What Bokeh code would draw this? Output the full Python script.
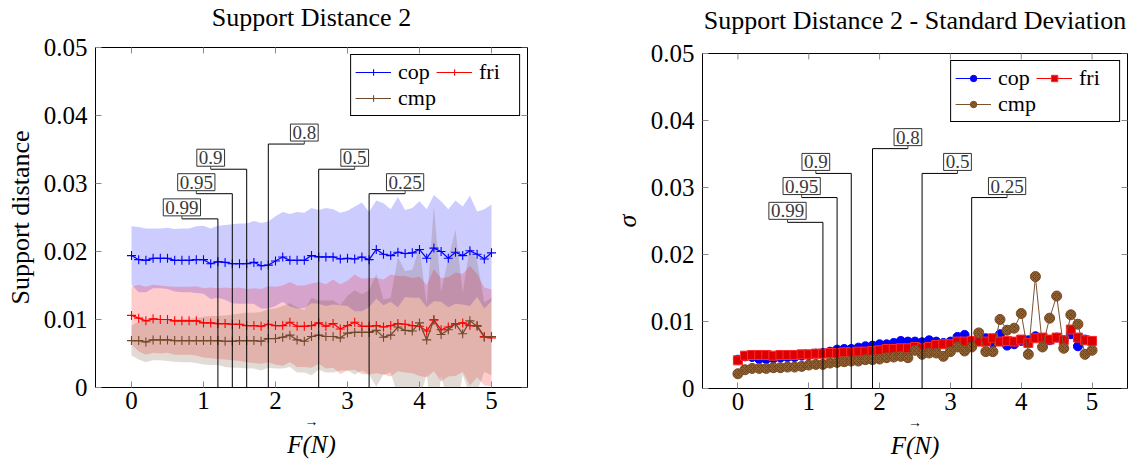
import numpy as np
from bokeh.plotting import figure
from bokeh.models import (Range1d, FixedTicker, Legend, LegendItem, Label, Title)
from bokeh.layouts import row, column
from bokeh.embed import file_html
from bokeh.resources import INLINE

FONT = "Liberation Serif"

# ---------------- data ----------------
force = [0.0, 0.1, 0.2, 0.3, 0.4, 0.5, 0.6, 0.7, 0.8, 0.9,
         1.0, 1.1, 1.2, 1.3, 1.4, 1.5, 1.6, 1.7, 1.8, 1.9,
         2.0, 2.1, 2.2, 2.3, 2.4, 2.5, 2.6, 2.7, 2.8, 2.9,
         3.0, 3.1, 3.2, 3.3, 3.4, 3.5, 3.6, 3.7, 3.8, 3.9,
         4.0, 4.1, 4.2, 4.3, 4.4, 4.5, 4.6, 4.7, 4.8, 4.9, 5.0]

cop_mean = [0.0194, 0.0188, 0.0187, 0.0190, 0.0190, 0.0190, 0.0187, 0.0187, 0.0187, 0.0188,
            0.0188, 0.0182, 0.0185, 0.0184, 0.0182, 0.0182, 0.0182, 0.0184, 0.0179, 0.0180,
            0.0186, 0.0192, 0.0187, 0.0187, 0.0187, 0.0194, 0.0192, 0.0192, 0.0192, 0.0189,
            0.0190, 0.0189, 0.0192, 0.0188, 0.0203, 0.0196, 0.0194, 0.0199, 0.0197, 0.0198,
            0.0203, 0.0190, 0.0205, 0.0200, 0.0190, 0.0199, 0.0194, 0.0201, 0.0196, 0.0189, 0.0198]

fri_mean = [0.0106, 0.0102, 0.0098, 0.0101, 0.0100, 0.0100, 0.0098, 0.0098, 0.0098, 0.0098,
            0.0095, 0.0095, 0.0094, 0.0094, 0.0093, 0.0093, 0.0091, 0.0091, 0.0090, 0.0093,
            0.0091, 0.0091, 0.0096, 0.0090, 0.0090, 0.0091, 0.0095, 0.0090, 0.0094, 0.0086,
            0.0091, 0.0096, 0.0090, 0.0090, 0.0091, 0.0089, 0.0091, 0.0094, 0.0093, 0.0091,
            0.0090, 0.0083, 0.0099, 0.0085, 0.0089, 0.0093, 0.0095, 0.0091, 0.0091, 0.0075, 0.0073]

cmp_mean = [0.0069, 0.0069, 0.0067, 0.0070, 0.0070, 0.0070, 0.0069, 0.0069, 0.0069, 0.0069,
            0.0069, 0.0069, 0.0069, 0.0068, 0.0068, 0.0069, 0.0069, 0.0069, 0.0068, 0.0072,
            0.0072, 0.0074, 0.0077, 0.0070, 0.0068, 0.0075, 0.0077, 0.0075, 0.0075, 0.0073,
            0.0080, 0.0081, 0.0081, 0.0081, 0.0084, 0.0074, 0.0077, 0.0089, 0.0084, 0.0083,
            0.0095, 0.0070, 0.0100, 0.0078, 0.0085, 0.0094, 0.0079, 0.0098, 0.0090, 0.0074, 0.0075]

cop_std = [0.0043, 0.0048, 0.0047, 0.0044, 0.0044, 0.0045, 0.0046, 0.0047, 0.0047, 0.0049,
           0.0050, 0.0052, 0.0053, 0.0055, 0.0058, 0.0059, 0.0059, 0.0061, 0.0063, 0.0064,
           0.0066, 0.0066, 0.0068, 0.0071, 0.0070, 0.0070, 0.0069, 0.0072, 0.0070, 0.0068,
           0.0070, 0.0077, 0.0080, 0.0070, 0.0072, 0.0075, 0.0068, 0.0081, 0.0064, 0.0066,
           0.0071, 0.0072, 0.0078, 0.0074, 0.0072, 0.0076, 0.0072, 0.0081, 0.0063, 0.0073, 0.0071]

fri_std = [0.0042, 0.0049, 0.0050, 0.0050, 0.0050, 0.0049, 0.0050, 0.0050, 0.0050, 0.0051,
           0.0051, 0.0052, 0.0052, 0.0053, 0.0053, 0.0054, 0.0054, 0.0055, 0.0055, 0.0056,
           0.0057, 0.0059, 0.0059, 0.0060, 0.0060, 0.0062, 0.0060, 0.0062, 0.0065, 0.0066,
           0.0066, 0.0070, 0.0070, 0.0071, 0.0070, 0.0070, 0.0075, 0.0070, 0.0071, 0.0070,
           0.0073, 0.0068, 0.0075, 0.0076, 0.0073, 0.0076, 0.0072, 0.0088, 0.0076, 0.0072, 0.0071]

cmp_std = [0.0022, 0.0028, 0.0030, 0.0030, 0.0030, 0.0031, 0.0031, 0.0032, 0.0032, 0.0033,
           0.0035, 0.0036, 0.0036, 0.0038, 0.0039, 0.0040, 0.0041, 0.0041, 0.0043, 0.0043,
           0.0044, 0.0046, 0.0047, 0.0048, 0.0046, 0.0057, 0.0051, 0.0053, 0.0053, 0.0048,
           0.0055, 0.0062, 0.0056, 0.0062, 0.0083, 0.0055, 0.0055, 0.0103, 0.0087, 0.0090,
           0.0112, 0.0051, 0.0167, 0.0062, 0.0105, 0.0138, 0.0060, 0.0110, 0.0096, 0.0051, 0.0057]

series_names = ["cop", "fri", "cmp"]

# quantile annotations (pins)
ann_labels = ["0.99", "0.95", "0.9", "0.8", "0.5", "0.25"]
ann_x = [1.2, 1.4, 1.6, 1.9, 2.6, 3.3]
ann_h = [0.0248, 0.0285, 0.0321, 0.0358, 0.0321, 0.0285]
ann_label_x = [0.70, 0.90, 1.10, 2.40, 3.10, 3.80]

x_ticks = [0, 1, 2, 3, 4, 5]
x_tick_labels = ["0", "1", "2", "3", "4", "5"]
y_ticks = [0, 0.01, 0.02, 0.03, 0.04, 0.05]
y_tick_labels = ["0", "0.01", "0.02", "0.03", "0.04", "0.05"]
X_MIN, X_MAX = -0.5, 5.5
Y_MIN, Y_MAX = 0, 0.05

# ---------------- styling helpers ----------------
TICK_COLOR = "#8a8a8a"


def base_fig(width, title, ylabel, borders, title_lift, ylabel_style="normal"):
    left, right, top, bottom = borders
    p = figure(width=width, height=463, output_backend="svg", toolbar_location=None,
               x_range=Range1d(X_MIN, X_MAX), y_range=Range1d(Y_MIN, Y_MAX),
               min_border_left=left, min_border_right=right,
               min_border_top=top, min_border_bottom=bottom)
    xa = p.below[0]
    ya = p.left[0]

    p.title.text = title
    p.title.text_font = FONT
    p.title.text_font_size = "26px"
    p.title.text_font_style = "normal"
    p.title.align = "center"
    p.title.text_color = "black"
    # lift the title away from the frame with bottom padding (fallback: standoff)
    try:
        p.title.padding = dict(left=0, right=0, top=0, bottom=title_lift)
        p.title.standoff = 0
    except Exception:
        p.title.standoff = 16
    p.background_fill_color = "white"
    p.border_fill_color = "white"
    p.outline_line_color = "black"
    p.outline_line_width = 1
    p.outline_line_alpha = 1
    p.grid.visible = False

    xa.ticker = FixedTicker(ticks=x_ticks)
    xa.major_label_overrides = dict(zip(x_ticks, x_tick_labels))
    ya.ticker = FixedTicker(ticks=y_ticks)
    ya.major_label_overrides = dict(zip(y_ticks, y_tick_labels))
    ya.axis_label = ylabel
    ya.axis_label_text_font_style = ylabel_style
    for ax in (xa, ya):
        ax.axis_line_color = None
        ax.major_tick_in = 6
        ax.major_tick_out = 0
        ax.minor_tick_in = 0
        ax.minor_tick_out = 0
        ax.minor_tick_line_color = None
        ax.major_tick_line_color = TICK_COLOR
        ax.major_label_text_font = FONT
        ax.major_label_text_font_size = "25px"
        ax.major_label_text_color = "black"
        ax.axis_label_text_font = FONT
        ax.axis_label_text_font_size = "26px"
        ax.axis_label_text_color = "black"
    xa.major_label_standoff = 4
    ya.major_label_standoff = 8
    ya.axis_label_standoff = 6

    # x-axis label: vector arrow stacked over "F(N)"
    p.add_layout(Title(text="\u2192", align="center", offset=-15, standoff=0,
                       text_font=FONT, text_font_size="14px", text_baseline="middle",
                       text_font_style="normal", text_color="black"), "below")
    p.add_layout(Title(text="F(N)", align="center", standoff=0,
                       text_font=FONT, text_font_size="25px",
                       text_font_style="italic", text_color="black"), "below")

    # mirrored (inward) ticks on the top and right edges of the frame
    p.scatter(x=x_ticks, y=[Y_MAX] * len(x_ticks), marker="dash", angle=np.pi / 2,
              size=12, line_color=TICK_COLOR, line_width=1)
    p.scatter(x=[X_MAX] * len(y_ticks), y=y_ticks, marker="dash",
              size=12, line_color=TICK_COLOR, line_width=1)
    return p


def add_pins(p, gap):
    p.segment(x0=ann_x, y0=[Y_MIN] * len(ann_x), x1=ann_x, y1=ann_h,
              line_color="black", line_width=1)
    p.segment(x0=ann_label_x, y0=ann_h, x1=ann_x, y1=ann_h,
              line_color="black", line_width=1)
    p.segment(x0=ann_label_x, y0=ann_h, x1=ann_label_x,
              y1=[h + gap for h in ann_h], line_color="#444444", line_width=1)
    for lab, lx, h in zip(ann_labels, ann_label_x, ann_h):
        p.add_layout(Label(x=lx, y=h + gap, text=lab, text_align="center",
                           text_baseline="bottom", text_font=FONT,
                           text_font_size="19px", text_color="#3a3a3a",
                           background_fill_color="white", background_fill_alpha=1,
                           border_line_color="#333333", border_line_width=1,
                           padding=2))


def make_legend(items):
    lg = Legend(items=items, orientation="horizontal", ncols=2, location="top_right",
                margin=7, label_text_font=FONT, label_text_font_size="22px",
                label_text_color="black", glyph_width=36, glyph_height=16,
                label_height=16, label_width=36, label_standoff=7, spacing=0,
                padding=4, border_line_color="black", border_line_width=1,
                border_line_alpha=1, background_fill_color="white",
                background_fill_alpha=1)
    return lg


# ---------------- left: mean with std band ----------------
p1 = base_fig(560, "Support Distance 2", "Support distance", (95, 33, 47, 76), 16)

colors_line = {"cop": "#0000ff", "fri": "#ff0000", "cmp": "#70492b"}
colors_band = {"cop": "#0000ff", "fri": "#ff0000", "cmp": "#6e4a2e"}
means = {"cop": cop_mean, "fri": fri_mean, "cmp": cmp_mean}
stds = {"cop": cop_std, "fri": fri_std, "cmp": cmp_std}

for name in series_names:
    m = np.array(means[name])
    s = np.array(stds[name])
    p1.varea(x=force, y1=m - s, y2=m + s, fill_color=colors_band[name], fill_alpha=0.2)

items1 = []
for name in series_names:
    lr = p1.line(force, means[name], line_color=colors_line[name], line_width=1.2)
    sr = p1.scatter(force, means[name], marker="cross", size=9,
                    line_color=colors_line[name], line_width=1.1)
    items1.append(LegendItem(label=name, renderers=[lr, sr]))

add_pins(p1, (Y_MAX - Y_MIN) * 3 / 340)
p1.add_layout(make_legend(items1))

# ---------------- right: standard deviation ----------------
p2 = base_fig(583, "Support Distance 2 - Standard Deviation", "\u03c3",
              (142, 16, 53, 75), 19, ylabel_style="italic")

items2 = []
lr = p2.line(force, cop_std, line_color="#0000ff", line_width=1)
sr = p2.scatter(force, cop_std, marker="circle", size=9, fill_color="#0000ff",
                line_color="#0000ff")
items2.append(LegendItem(label="cop", renderers=[lr, sr]))
lr = p2.line(force, fri_std, line_color="#ff0000", line_width=1)
sr = p2.scatter(force, fri_std, marker="square", size=9, fill_color="#dd0000",
                line_color="#ff2a2a", line_width=1)
items2.append(LegendItem(label="fri", renderers=[lr, sr]))
lr = p2.line(force, cmp_std, line_color="#7a5230", line_width=1)
sr = p2.scatter(force, cmp_std, marker="circle", size=10, fill_color="#93602e",
                line_color="#7a4e25", line_width=1, hatch_pattern="diagonal_cross",
                hatch_color="#5e3b1a", hatch_scale=4, hatch_weight=0.7)
items2.append(LegendItem(label="cmp", renderers=[lr, sr]))

add_pins(p2, (Y_MAX - Y_MIN) * 3 / 335)
p2.add_layout(make_legend(items2))

layout = row(column(p1), column(p2))
open("out.html", "w").write(file_html(layout, INLINE))
